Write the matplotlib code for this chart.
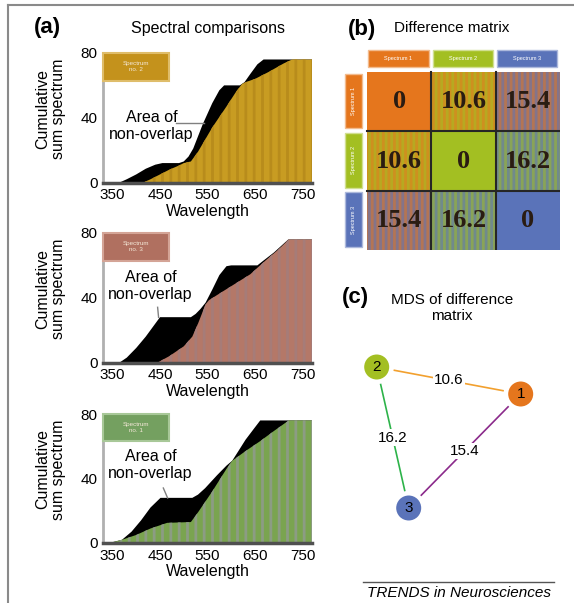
import matplotlib
matplotlib.use('Agg')
import matplotlib.pyplot as plt
from matplotlib.patches import Rectangle, Circle
from matplotlib.lines import Line2D
import numpy as np

plt.rcParams['font.family'] = ['Liberation Sans', 'DejaVu Sans']
plt.rcParams['hatch.linewidth'] = 2.0

W, H = 574, 603

# ---------------- data ----------------
x_ticks = [350, 450, 550, 650, 750]
y_ticks = [0, 40, 80]

# panel (a) top: reference curve (black) vs spectrum no. 2 (gold)
p1_ref_wl = [330, 365, 380, 400, 420, 440, 455, 490, 500, 510, 520, 540, 560, 575, 585, 618, 628, 640, 655, 668, 770]
p1_ref_val = [0, 0, 2, 5, 8.5, 11, 12, 12, 13, 16, 21, 36, 49, 57, 60, 60, 62, 67, 73, 76, 76]
p1_spec_wl = [330, 415, 430, 450, 470, 490, 500, 515, 530, 560, 590, 610, 623, 635, 650, 680, 710, 728, 770]
p1_spec_val = [0, 0, 2, 5, 8, 10.5, 12, 13, 19, 34, 47, 56, 61, 62.5, 64, 68.5, 73.5, 76, 76]

# panel (a) middle: reference vs spectrum no. 3 (brown)
p2_ref_wl = [330, 365, 380, 400, 420, 440, 450, 515, 525, 535, 546, 560, 575, 590, 600, 655, 668, 690, 720, 770]
p2_ref_val = [0, 0, 3, 9, 16, 24, 28, 28, 30, 33, 37, 45, 54, 59.5, 60, 60, 63, 68, 76, 76]
p2_spec_wl = [330, 445, 470, 500, 518, 530, 546, 553, 580, 610, 640, 672, 700, 721, 770]
p2_spec_val = [0, 0, 4, 10, 16, 24, 36, 38.5, 43.5, 49, 54.5, 63, 70, 76, 76]

# panel (a) bottom: reference vs spectrum no. 1 (green)
p3_ref_wl = [330, 350, 370, 390, 410, 430, 451, 518, 530, 545, 570, 590, 602, 615, 630, 648, 661, 770]
p3_ref_val = [0, 0.5, 2, 7, 14, 22, 28, 28, 30, 34, 42, 48, 51, 57, 64, 71, 76, 76]
p3_spec_wl = [330, 350, 370, 400, 430, 465, 515, 530, 560, 590, 602, 630, 660, 690, 721, 770]
p3_spec_val = [0, 0.5, 2, 5, 9, 12.5, 13, 19, 32, 46, 51, 57, 63, 69.5, 76, 76]

spectrum_names = ['Spectrum\nno. 2', 'Spectrum\nno. 3', 'Spectrum\nno. 1']

# panel (b)
matrix_names = ['Spectrum 1', 'Spectrum 2', 'Spectrum 3']
diff_matrix = [[0, 10.6, 15.4],
               [10.6, 0, 16.2],
               [15.4, 16.2, 0]]

# panel (c) MDS coordinates (arbitrary units)
node_labels = ['1', '2', '3']
mds_x = [8.5, -5.9, -2.7]
mds_y = [2.9, 5.6, -8.5]
edge_pairs = [(1, 0), (1, 2), (0, 2)]

# ---------------- styles ----------------
fill_styles = [
    dict(face='#c89c22', stripe='#b88c1c', box='#c4921c', boxedge='#dfbd6a'),
    dict(face='#b47868', stripe='#a67c78', box='#b07060', boxedge='#d4a496'),
    dict(face='#7aa450', stripe='#8c9c84', box='#74a060', boxedge='#a8c898'),
]
node_colors = ['#e5761d', '#a3bf22', '#5a73b9']
edge_colors = {(1, 0): '#f2a02e', (1, 2): '#2db34a', (0, 2): '#8b2a8b'}


def fx(X):
    return X / W


def fy(Y):
    return 1 - Y / H


fig = plt.figure(figsize=(W / 100, H / 100), dpi=100)

# frame lines
fig.add_artist(Line2D([fx(8), 1], [fy(5), fy(5)], color='#8a8a8a', lw=1.5))
fig.add_artist(Line2D([fx(8), fx(8)], [fy(5), 0], color='#8a8a8a', lw=1.5))

# ---------------- panel (a) ----------------
fig.text(fx(47), fy(27), '(a)', fontsize=16, fontweight='bold', ha='center', va='center')
fig.text(fx(208), fy(28), 'Spectral comparisons', fontsize=11.5, ha='center', va='center')

panels = [
    (53, 182.5, p1_ref_wl, p1_ref_val, p1_spec_wl, p1_spec_val, (432, 34.7), ((483, 36.6), (542, 36.6))),
    (233, 362.5, p2_ref_wl, p2_ref_val, p2_spec_wl, p2_spec_val, (430, 47.1), ((445, 34.1), (447, 27.9))),
    (414, 543, p3_ref_wl, p3_ref_val, p3_spec_wl, p3_spec_val, (430, 48.4), ((457, 34.1), (466, 27.9))),
]

for k, (top, bot, rwl, rval, swl, sval, txt_pos, ptr) in enumerate(panels):
    st = fill_styles[k]
    ax = fig.add_axes([fx(103), fy(bot), (312 - 103) / W, (bot - top) / H])
    ax.set_xlim(330, 770)
    ax.set_ylim(0, 80)
    ax.fill_between(rwl, 0, rval, facecolor='black', linewidth=0, zorder=1)
    ax.fill_between(swl, 0, sval, facecolor=st['face'], edgecolor=st['stripe'],
                    hatch='||', linewidth=0, zorder=2)
    for s in ['top', 'right']:
        ax.spines[s].set_visible(False)
    ax.spines['left'].set_color('#b0b0b0')
    ax.spines['left'].set_linewidth(2)
    ax.spines['bottom'].set_color('#505050')
    ax.spines['bottom'].set_linewidth(2.5)
    ax.spines['left'].set_zorder(5)
    ax.spines['bottom'].set_zorder(5)
    ax.set_xticks(x_ticks)
    ax.set_yticks(y_ticks)
    ax.tick_params(length=0, labelsize=11)
    ax.tick_params(axis='x', pad=4)
    ax.tick_params(axis='y', pad=4)
    ax.set_xlabel('Wavelength', fontsize=11.5)
    ax.xaxis.set_label_coords(0.5, -0.165)
    ax.set_ylabel('Cumulative\nsum spectrum', fontsize=11.5, linespacing=1.1)
    ax.yaxis.set_label_coords(-0.175, 0.57)
    # label box
    ax.add_patch(Rectangle((331, 63), 137, 17, facecolor=st['box'], edgecolor=st['boxedge'],
                           lw=1.5, zorder=6, clip_on=False))
    ax.text(399, 71.5, spectrum_names[k], fontsize=4.5, color='#f4e8d8', ha='center',
            va='center', zorder=7, linespacing=1.2)
    ax.text(txt_pos[0], txt_pos[1], 'Area of\nnon-overlap', fontsize=11.5, ha='center',
            va='center', zorder=7, linespacing=1.15)
    ax.plot([ptr[0][0], ptr[1][0]], [ptr[0][1], ptr[1][1]], color='#808080', lw=1, zorder=7)

# ---------------- panel (b) ----------------
fig.text(fx(362), fy(29), '(b)', fontsize=16, fontweight='bold', ha='center', va='center')
fig.text(fx(452), fy(28), 'Difference matrix', fontsize=11, ha='center', va='center')

xb0 = 367 - 0.4 * 64.33
yb0 = 72 - 0.45 * 59.33
axb = fig.add_axes([fx(xb0), fy(250), (560 - xb0) / W, (250 - yb0) / H])
axb.set_xlim(-0.4, 3)
axb.set_ylim(3, -0.45)
axb.axis('off')


def mix(c1, c2, t):
    a = np.array(matplotlib.colors.to_rgb(c1))
    b = np.array(matplotlib.colors.to_rgb(c2))
    return tuple(a * (1 - t) + b * t)


n = len(diff_matrix)
for i in range(n):
    for j in range(n):
        if i == j:
            axb.add_patch(Rectangle((j, i), 1, 1, facecolor=node_colors[i], lw=0))
        else:
            a, b = min(i, j), max(i, j)
            face = mix(node_colors[a], node_colors[b], 0.35)
            stripe = mix(node_colors[a], node_colors[b], 0.7)
            axb.add_patch(Rectangle((j, i), 1, 1, facecolor=face, edgecolor=stripe,
                                    hatch='|||', lw=0))
        axb.text(j + 0.5, i + 0.5, f'{diff_matrix[i][j]:g}', fontsize=19, fontweight='bold',
                 family=['Liberation Serif', 'DejaVu Serif'], color='#2a1c12',
                 ha='center', va='center')
for k in range(1, n):
    axb.plot([k, k], [0, 3], color='#262626', lw=1.5)
    axb.plot([0, 3], [k, k], color='#262626', lw=1.5)
for k in range(n):
    axb.add_patch(Rectangle((k + 0.02, -0.37), 0.94, 0.285, facecolor=node_colors[k],
                            edgecolor=mix(node_colors[k], '#ffffff', 0.5), lw=1))
    axb.text(k + 0.49, -0.227, matrix_names[k], fontsize=4, color='white', ha='center', va='center')
    axb.add_patch(Rectangle((-0.342, k + 0.03), 0.264, 0.92, facecolor=node_colors[k],
                            edgecolor=mix(node_colors[k], '#ffffff', 0.5), lw=1))
    axb.text(-0.21, k + 0.49, matrix_names[k], fontsize=4, color='white', ha='center',
             va='center', rotation=90)

# ---------------- panel (c) ----------------
fig.text(fx(355), fy(298), '(c)', fontsize=16, fontweight='bold', ha='center', va='center')
fig.text(fx(452), fy(308), 'MDS of difference\nmatrix', fontsize=11, ha='center', va='center',
         linespacing=1.25)

axc = fig.add_axes([fx(330), fy(540), 244 / W, 205 / H])
axc.set_xlim(-10.57, 13.83)
axc.set_ylim(-11.7, 8.8)
axc.axis('off')

r = 1.25
gap = 0.55
for (a, b) in edge_pairs:
    pa = np.array([mds_x[a], mds_y[a]])
    pb = np.array([mds_x[b], mds_y[b]])
    u = (pb - pa) / np.linalg.norm(pb - pa)
    s = pa + u * (r + gap)
    e = pb - u * (r + gap)
    axc.plot([s[0], e[0]], [s[1], e[1]], color=edge_colors[(a, b)], lw=1.2, zorder=1)
    m = (pa + pb) / 2
    axc.text(m[0], m[1], f'{diff_matrix[a][b]:g}', fontsize=11, ha='center', va='center',
             zorder=2, bbox=dict(facecolor='white', edgecolor='none', pad=1))
for k in range(n):
    axc.add_patch(Circle((mds_x[k], mds_y[k]), r, facecolor=node_colors[k], edgecolor='none', zorder=3))
    axc.text(mds_x[k], mds_y[k], node_labels[k], fontsize=11, ha='center', va='center', zorder=4)

# footer
fig.add_artist(Line2D([fx(363), fx(554)], [fy(582), fy(582)], color='#555555', lw=1))
fig.text(fx(459), fy(593), 'TRENDS in Neurosciences', fontsize=11, style='italic',
         ha='center', va='center')

fig.savefig('out.png', dpi=100)
